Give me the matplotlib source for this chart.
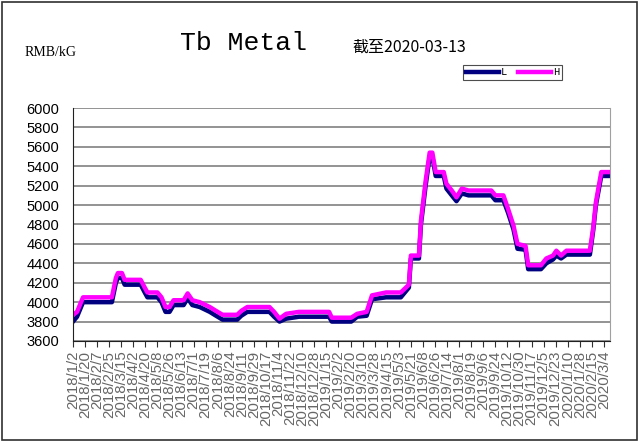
import matplotlib
matplotlib.use('Agg')
import matplotlib.pyplot as plt
from matplotlib.patches import Rectangle
import pandas as pd

# knots (date, low, high)
dates = [
    '2018-01-02', '2018-01-08', '2018-01-17', '2018-03-01', '2018-03-07',
    '2018-03-10', '2018-03-16', '2018-03-20', '2018-04-13', '2018-04-19',
    '2018-04-23', '2018-05-08', '2018-05-14', '2018-05-20', '2018-05-26',
    '2018-06-01', '2018-06-16', '2018-06-22', '2018-06-29', '2018-07-10',
    '2018-07-25', '2018-08-01', '2018-08-13', '2018-09-04', '2018-09-10',
    '2018-09-19', '2018-10-22', '2018-10-29', '2018-11-06', '2018-11-16',
    '2018-12-05', '2019-01-19', '2019-01-23', '2019-02-21', '2019-03-02',
    '2019-03-16', '2019-03-24', '2019-04-14', '2019-05-06', '2019-05-18',
    '2019-05-21', '2019-06-02', '2019-06-05', '2019-06-12', '2019-06-18',
    '2019-06-22', '2019-06-27', '2019-07-09', '2019-07-13', '2019-07-21',
    '2019-07-28', '2019-08-05', '2019-08-15', '2019-09-18', '2019-09-24',
    '2019-10-06', '2019-10-13', '2019-10-21', '2019-10-27', '2019-11-08',
    '2019-11-12', '2019-12-01', '2019-12-09', '2019-12-19', '2019-12-24',
    '2019-12-31', '2020-01-08', '2020-02-12', '2020-02-17', '2020-02-21',
    '2020-02-29', '2020-03-13',
]
low = [
    3800, 3850, 4000, 4000, 4200,
    4250, 4250, 4180, 4180, 4100,
    4050, 4050, 4000, 3900, 3900,
    3970, 3970, 4040, 3970, 3950,
    3900, 3870, 3820, 3820, 3860,
    3900, 3900, 3850, 3800, 3830,
    3850, 3850, 3800, 3800, 3850,
    3860, 4030, 4050, 4050, 4150,
    4450, 4450, 4800, 5200, 5500,
    5500, 5300, 5300, 5170, 5100,
    5040, 5120, 5100, 5100, 5050,
    5050, 4920, 4750, 4550, 4540,
    4340, 4340, 4400, 4440, 4480,
    4450, 4490, 4490, 4740, 5000,
    5300, 5300,
]
high = [
    3870, 3900, 4050, 4050, 4250,
    4300, 4300, 4230, 4230, 4150,
    4100, 4100, 4050, 3950, 3950,
    4020, 4020, 4090, 4020, 4000,
    3950, 3920, 3870, 3870, 3910,
    3950, 3950, 3900, 3830, 3880,
    3900, 3900, 3840, 3840, 3880,
    3900, 4070, 4100, 4100, 4180,
    4480, 4480, 4840, 5250, 5540,
    5540, 5340, 5340, 5220, 5150,
    5080, 5170, 5150, 5150, 5100,
    5100, 4960, 4790, 4600, 4580,
    4380, 4380, 4450, 4480, 4530,
    4480, 4530, 4530, 4770, 5030,
    5340, 5340,
]
x_start = '2018-01-02'
x_end = '2020-03-13'
y_ticks = list(range(3600, 6001, 200))

x = pd.to_datetime(dates)

fig = plt.figure(figsize=(6.41, 4.47), dpi=100)
# outer frame of the chart area
fig.patches.append(Rectangle((2 / 641, 7 / 447), 635 / 641, 438 / 447,
                             transform=fig.transFigure, fill=False,
                             edgecolor='#303030', linewidth=1.2))

ax = fig.add_axes([73 / 641, 1 - 341 / 447, 537 / 641, 233 / 447])

ax.plot(x, low, color='#000080', linewidth=3.2, label='L', solid_joinstyle='round')
ax.plot(x, high, color='#ff00ff', linewidth=3.2, label='H', solid_joinstyle='round')

ax.set_xlim(pd.Timestamp(x_start), pd.Timestamp(x_end))
ax.set_ylim(3600, 6000)
ax.set_yticks(y_ticks)
ax.yaxis.grid(True, color='#808080', linewidth=1.2)
ax.set_axisbelow(True)

# date axis, one tick every 18 days
ticks = pd.date_range(x_start, x_end, freq='18D')
ax.set_xticks(ticks)
ax.set_xticklabels([f'{t.year}/{t.month}/{t.day}' for t in ticks],
                   rotation=90, fontsize=10.8, color='#666666',
                   family='Liberation Sans')
ax.tick_params(axis='x', direction='out', length=4, width=0.8, color='#303030', pad=3)
ax.tick_params(axis='y', length=0, pad=10, labelsize=10.5)
for lab in ax.get_yticklabels():
    lab.set_family('Liberation Sans')

ax.spines['left'].set_color('#202020')
ax.spines['bottom'].set_color('#202020')
ax.spines['top'].set_visible(False)
ax.spines['right'].set_color('#a0a0a0')

fig.text(244 / 641, 1 - 43 / 447, 'Tb Metal', fontsize=19, family='Liberation Mono',
         ha='center', va='center')
fig.text(352 / 641, 1 - 47 / 447, '截至2020-03-13', fontsize=11.5,
         family=['Noto Sans CJK SC', 'DejaVu Sans'], ha='left', va='center')
fig.text(25 / 641, 1 - 52 / 447, 'RMB/kG', fontsize=10, family='Liberation Serif',
         ha='left', va='center')

leg = ax.legend(loc='lower left', bbox_to_anchor=(463 / 641, 1 - 80 / 447, 99 / 641, 16 / 447),
                bbox_transform=fig.transFigure, ncol=2, frameon=True,
                fancybox=False, edgecolor='#202020', handlelength=3.2, handletextpad=0.2,
                columnspacing=1.0, borderpad=0.25, borderaxespad=0, mode='expand',
                prop={'family': 'Liberation Mono', 'size': 7.5})
leg.get_frame().set_linewidth(0.8)

fig.savefig('out.png', dpi=100)
